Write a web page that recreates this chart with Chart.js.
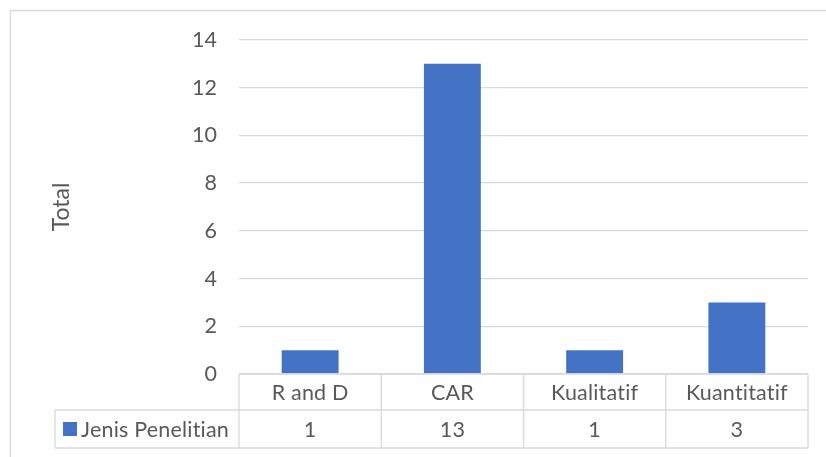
<!DOCTYPE html>
<html><head><meta charset="utf-8">
<script src="https://cdn.jsdelivr.net/npm/chart.js@4/dist/chart.umd.min.js"></script>
<style>html,body{margin:0;padding:0;background:#fff;}#wrap{width:826px;height:457px;}</style>
</head><body><div id="wrap"><canvas id="c" width="826" height="457"></canvas></div>
<script>
const categories = ['R and D', 'CAR', 'Kualitatif', 'Kuantitatif'];
const seriesName = 'Jenis Penelitian';
const values = [1, 13, 1, 3];
const yTicks = [0, 2, 4, 6, 8, 10, 12, 14];

const FONT = 'Lato, "Open Sans", sans-serif';
const FS = 21.5;
const TXT = '#595959';
const LINE = '#d9d9d9';

const tablePlugin = {
  id: 'tablePlugin',
  afterDraw(chart) {
    const ctx = chart.ctx;
    const x = chart.scales.x;
    const ca = chart.chartArea;
    const n = categories.length;
    const colW = (ca.right - ca.left) / n;
    const top = ca.bottom, mid = top + 36, bot = top + 74;
    const legLeft = 55;
    ctx.save();
    ctx.strokeStyle = LINE; ctx.lineWidth = 1.3;
    // outer border
    ctx.beginPath();
    ctx.moveTo(10.5, 460); ctx.lineTo(10.5, 10.5); ctx.lineTo(830, 10.5);
    ctx.stroke();
    // table lines
    ctx.beginPath();
    ctx.moveTo(ca.left, top); ctx.lineTo(ca.right, top);
    ctx.moveTo(legLeft, mid); ctx.lineTo(ca.right, mid);
    ctx.moveTo(legLeft, bot); ctx.lineTo(ca.right, bot);
    ctx.moveTo(legLeft, mid); ctx.lineTo(legLeft, bot);
    for (let i = 0; i <= n; i++) {
      const xx = ca.left + i * colW;
      ctx.moveTo(xx, top); ctx.lineTo(xx, bot);
    }
    ctx.stroke();
    // texts
    ctx.fillStyle = TXT;
    ctx.font = FS + 'px ' + FONT;
    if ('letterSpacing' in ctx) ctx.letterSpacing = '0.2px';
    ctx.textAlign = 'center'; ctx.textBaseline = 'middle';
    for (let i = 0; i < n; i++) {
      const cx = x.getPixelForValue(i);
      ctx.fillText(categories[i], cx, (top + mid) / 2 + 1);
      ctx.fillText(String(values[i]), cx, (mid + bot) / 2 + 1);
    }
    // legend key
    ctx.fillStyle = '#4472c4';
    ctx.fillRect(63, (mid + bot) / 2 - 7, 14, 14);
    ctx.fillStyle = TXT;
    ctx.textAlign = 'left';
    ctx.fillText(seriesName, 81, (mid + bot) / 2 + 1);
    ctx.restore();
  }
};

new Chart(document.getElementById('c'), {
  type: 'bar',
  data: {
    labels: categories,
    datasets: [{ label: seriesName, data: values, backgroundColor: '#4472c4', borderWidth: 0,
      categoryPercentage: 1, barPercentage: 0.4 }]
  },
  options: {
    responsive: false, animation: false, devicePixelRatio: 1,
    layout: { padding: { top: 40, bottom: 83, right: 18, left: 0 } },
    plugins: { legend: { display: false }, tooltip: { enabled: false } },
    scales: {
      x: { display: false },
      y: {
        min: 0, max: 14,
        afterFit(s) { s.width = 239; },
        afterBuildTicks(s) { s.ticks = yTicks.map(v => ({ value: v })); },
        border: { display: false },
        grid: { color: LINE, lineWidth: 1.3, drawTicks: false },
        ticks: { color: TXT, font: { family: FONT, size: FS }, padding: 22 },
        title: { display: true, text: 'Total', color: TXT, font: { family: FONT, size: 23 }, padding: { top: 48 } }
      }
    }
  },
  plugins: [tablePlugin]
});
</script></body></html>
